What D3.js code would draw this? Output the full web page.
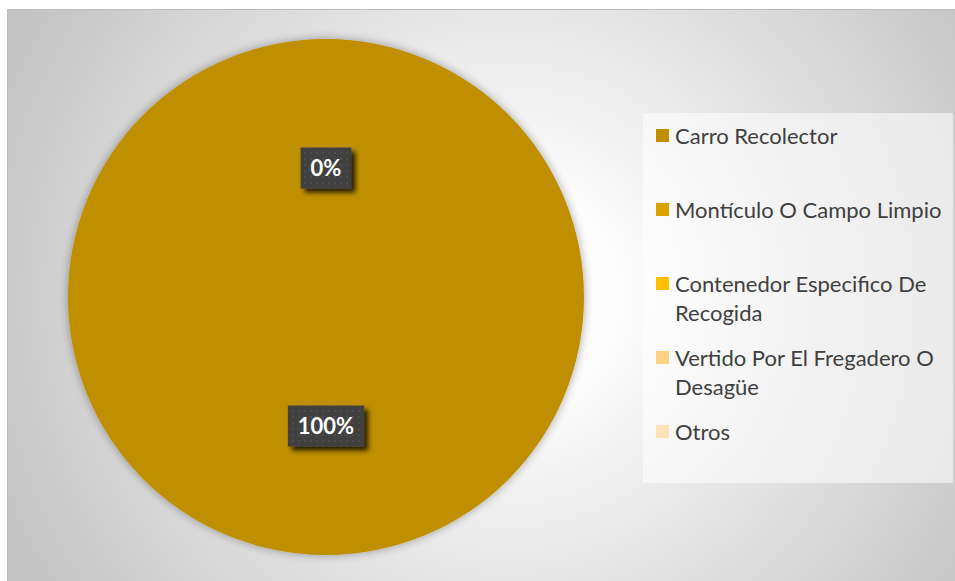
<!DOCTYPE html>
<html>
<head>
<meta charset="utf-8">
<script src="https://cdn.jsdelivr.net/npm/d3@7"></script>
<style>
  html, body { margin: 0; padding: 0; background: #ffffff; }
  svg { display: block; }
</style>
</head>
<body>
<svg id="chart" width="955" height="581"></svg>
<script>
// Destino de los residuos: categorías, porcentajes y colores de la serie
const categories = [
  "Carro Recolector",
  "Montículo O Campo Limpio",
  "Contenedor Especifico De Recogida",
  "Vertido Por El Fregadero O Desagüe",
  "Otros"
];
const values = [100, 0, 0, 0, 0];
const colors = ["#BF8F00", "#DDA100", "#FFC000", "#FFD184", "#FFE2B8"];

const W = 955, H = 581;
const svg = d3.select("#chart");
const defs = svg.append("defs");

// Fondo del área del gráfico: degradado radial gris claro
const bg = defs.append("radialGradient")
  .attr("id", "bgGrad")
  .attr("gradientUnits", "userSpaceOnUse")
  .attr("cx", 510).attr("cy", 295).attr("r", 560);
bg.append("stop").attr("offset", 0).attr("stop-color", "#ffffff");
bg.append("stop").attr("offset", 0.2).attr("stop-color", "#fcfcfc");
bg.append("stop").attr("offset", 1).attr("stop-color", "#c3c3c3");

// Sombra difusa alrededor del pastel
const pieShadow = defs.append("filter").attr("id", "pieShadow")
  .attr("x", "-10%").attr("y", "-10%").attr("width", "120%").attr("height", "120%");
pieShadow.append("feGaussianBlur").attr("in", "SourceAlpha").attr("stdDeviation", 5).attr("result", "b");
pieShadow.append("feComponentTransfer").attr("in", "b").attr("result", "s")
  .append("feFuncA").attr("type", "linear").attr("slope", 0.35);
const pm = pieShadow.append("feMerge");
pm.append("feMergeNode").attr("in", "s");
pm.append("feMergeNode").attr("in", "SourceGraphic");

// Sombra de las etiquetas de datos
const lblShadow = defs.append("filter").attr("id", "lblShadow")
  .attr("x", "-30%").attr("y", "-40%").attr("width", "160%").attr("height", "180%");
lblShadow.append("feGaussianBlur").attr("in", "SourceAlpha").attr("stdDeviation", 2.5).attr("result", "b");
lblShadow.append("feOffset").attr("in", "b").attr("dx", 4).attr("dy", 4).attr("result", "o");
lblShadow.append("feComponentTransfer").attr("in", "o").attr("result", "s")
  .append("feFuncA").attr("type", "linear").attr("slope", 0.8);
const lm = lblShadow.append("feMerge");
lm.append("feMergeNode").attr("in", "s");
lm.append("feMergeNode").attr("in", "SourceGraphic");

// Trama punteada de las etiquetas
const pat = defs.append("pattern").attr("id", "dots")
  .attr("patternUnits", "userSpaceOnUse").attr("width", 6).attr("height", 6);
pat.append("rect").attr("width", 6).attr("height", 6).attr("fill", "#404040");
pat.append("rect").attr("x", 2).attr("y", 2).attr("width", 2).attr("height", 2).attr("fill", "#4d4d4d");

// Área del gráfico
svg.append("rect")
  .attr("x", 7).attr("y", 9).attr("width", W - 7).attr("height", H - 9)
  .attr("fill", "url(#bgGrad)");
svg.append("path")
  .attr("d", `M7.5,${H} V9.5 H${W}`)
  .attr("fill", "none").attr("stroke", "#bdbdbd").attr("stroke-width", 1);

// Pastel
const cx = 326, cy = 297, radius = 258;
const pie = d3.pie().sort(null).value(d => d.value);
const data = categories.map((c, i) => ({ name: c, value: values[i], color: colors[i] }));
const arcs = pie(data);
const arc = d3.arc().innerRadius(0).outerRadius(radius);
const labelArc = d3.arc().innerRadius(radius * 0.5).outerRadius(radius * 0.5);

const g = svg.append("g").attr("transform", `translate(${cx},${cy})`);
g.append("g").attr("filter", "url(#pieShadow)")
  .selectAll("path")
  .data(arcs)
  .join("path")
  .attr("d", arc)
  .attr("fill", d => d.data.color);

// Etiquetas de porcentaje (las que coinciden en posición se dibujan una vez)
const total = d3.sum(values);
const fmt = v => Math.round(v / total * 100) + "%";
const seen = new Set();
const labelData = arcs.filter(d => {
  const [x, y] = labelArc.centroid(d);
  const key = Math.round(x) + "," + Math.round(y) + "," + fmt(d.data.value);
  if (seen.has(key)) return false;
  seen.add(key);
  return true;
});

const labels = g.selectAll("g.lbl")
  .data(labelData)
  .join("g")
  .attr("class", "lbl")
  .attr("transform", d => {
    const [x, y] = labelArc.centroid(d);
    return `translate(${x},${y})`;
  });

labels.each(function(d) {
  const sel = d3.select(this);
  const t = sel.append("text")
    .attr("text-anchor", "middle")
    .attr("dy", "0.36em")
    .attr("font-family", "Lato, 'Open Sans', sans-serif")
    .attr("font-weight", "bold")
    .attr("font-size", 22)
    .attr("fill", "#ffffff")
    .text(fmt(d.data.value));
  const w = t.node().getComputedTextLength() + 20;
  const h = 41;
  sel.insert("rect", "text")
    .attr("x", -w / 2).attr("y", -h / 2)
    .attr("width", w).attr("height", h)
    .attr("fill", "url(#dots)")
    .attr("filter", "url(#lblShadow)");
});

// Leyenda
const legX = 643, legY = 113, legW = 310, legH = 370;
svg.append("rect")
  .attr("x", legX).attr("y", legY).attr("width", legW).attr("height", legH)
  .attr("fill", "#ffffff").attr("fill-opacity", 0.55);

const legend = svg.append("g");
const step = 74, firstY = 136, lineH = 29, maxW = 272;

const items = legend.selectAll("g.item")
  .data(data)
  .join("g")
  .attr("class", "item")
  .attr("transform", (d, i) => `translate(656,${firstY + i * step})`);

items.append("rect")
  .attr("x", 0).attr("y", -7).attr("width", 13).attr("height", 13)
  .attr("fill", d => d.color);

items.each(function(d) {
  const sel = d3.select(this);
  const text = sel.append("text")
    .attr("x", 19)
    .attr("font-family", "Lato, 'Open Sans', sans-serif")
    .attr("font-size", 22)
    .attr("fill", "#404040");
  // ajuste de línea por ancho disponible
  const words = d.name.split(" ");
  let line = [], lineNo = 0;
  let tspan = text.append("tspan").attr("x", 19).attr("y", 0).attr("dy", "0.35em");
  words.forEach(wd => {
    line.push(wd);
    tspan.text(line.join(" "));
    if (tspan.node().getComputedTextLength() > maxW && line.length > 1) {
      line.pop();
      tspan.text(line.join(" "));
      line = [wd];
      lineNo++;
      tspan = text.append("tspan").attr("x", 19).attr("y", lineNo * lineH).attr("dy", "0.35em").text(wd);
    }
  });
});
</script>
</body>
</html>
